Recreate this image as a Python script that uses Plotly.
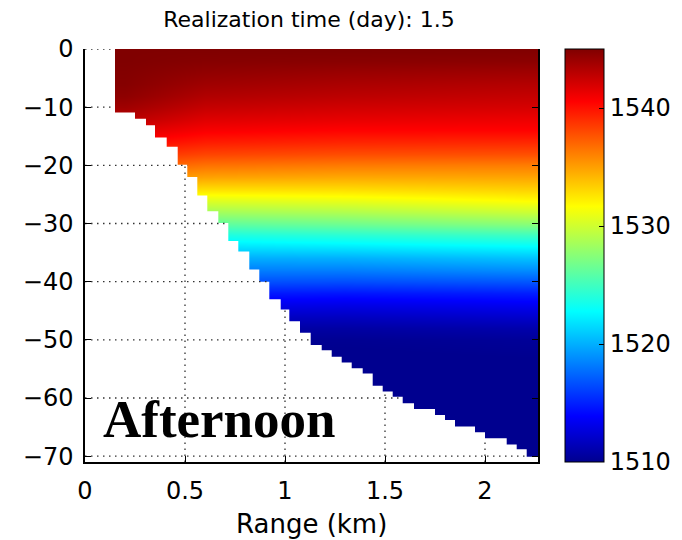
import bisect
import plotly.graph_objects as go

# ---------------- data ----------------
title_text = "Realization time (day): 1.5"
x_label = "Range (km)"
annotation_text = "Afternoon"

# sound-speed profiles (m/s) at four ranges (km), versus depth (m)
profile_range_km = [0.2, 0.6, 1.3, 2.2]
depth_m = [0, -2, -4, -6, -8, -10, -12, -14, -16, -18, -20, -22, -24, -26, -28,
           -30, -32, -34, -36, -38, -40, -42, -44, -46, -48, -50, -55, -60, -65, -71]
ss_0p2 = [1545.0, 1545.0, 1544.9, 1544.8, 1544.5, 1543.9, 1543.0, 1541.8, 1540.5, 1539.0,
          1537.4, 1535.6, 1533.4, 1531.0, 1528.6, 1526.0, 1523.8, 1521.8, 1520.0, 1518.4,
          1516.7, 1515.0, 1513.4, 1512.0, 1511.0, 1510.3, 1509.8, 1509.6, 1509.5, 1509.5]
ss_0p6 = [1545.0, 1544.8, 1544.4, 1543.9, 1543.3, 1542.6, 1541.7, 1540.8, 1539.6, 1538.2,
          1536.6, 1534.9, 1532.8, 1530.6, 1528.4, 1526.0, 1523.7, 1521.7, 1519.9, 1518.3,
          1516.6, 1514.8, 1513.2, 1511.8, 1510.8, 1510.2, 1509.8, 1509.6, 1509.5, 1509.5]
ss_1p3 = [1545.0, 1544.7, 1544.1, 1543.5, 1542.9, 1542.2, 1541.4, 1540.5, 1539.3, 1537.9,
          1536.3, 1534.7, 1532.9, 1531.0, 1528.9, 1526.6, 1524.2, 1522.0, 1520.0, 1518.3,
          1516.5, 1514.6, 1513.0, 1511.7, 1510.7, 1510.1, 1509.7, 1509.5, 1509.5, 1509.5]
ss_2p2 = [1545.0, 1544.6, 1543.9, 1543.2, 1542.6, 1542.0, 1541.2, 1540.5, 1539.2, 1537.8,
          1536.2, 1534.8, 1533.3, 1531.8, 1529.8, 1527.5, 1524.9, 1522.6, 1520.6, 1518.8,
          1516.8, 1514.9, 1513.4, 1512.1, 1511.0, 1510.3, 1509.8, 1509.6, 1509.5, 1509.5]

# bathymetry: left edge of each bottom step (km) and its depth (m)
bathy_left_km = [0.15, 0.25, 0.305, 0.35, 0.4085, 0.4635, 0.5115, 0.5615, 0.6115, 0.6665,
                 0.7165, 0.7665, 0.8215, 0.8715, 0.9215, 0.9785, 1.0215, 1.075, 1.1285,
                 1.1835, 1.2335, 1.2835, 1.3335, 1.3885, 1.4385, 1.4885, 1.5385, 1.5885,
                 1.645, 1.75, 1.80, 1.85, 1.95, 2.0, 2.1085, 2.1585, 2.2085]
bathy_depth_m = [-10.9, -12.0, -13.1, -15.2, -16.8, -19.9, -22.0, -25.2, -27.9, -29.9,
                 -33.0, -34.8, -37.9, -40.0, -43.0, -44.8, -46.8, -48.8, -50.9,
                 -51.8, -52.9, -53.9, -54.9, -55.8, -57.9, -58.9, -59.8, -60.9,
                 -61.9, -62.9, -63.8, -64.9, -65.9, -66.9, -68.0, -68.8, -70.1]

x_range = [0, 2.265]
y_range = [-71, 0]
x_tickvals = [0, 0.5, 1, 1.5, 2]
x_ticktext = ["0", "0.5", "1", "1.5", "2"]
y_tickvals = [0, -10, -20, -30, -40, -50, -60, -70]
y_ticktext = ["0", "\u221210", "\u221220", "\u221230", "\u221240", "\u221250", "\u221260", "\u221270"]
cbar_tickvals = [1510, 1520, 1530, 1540]
c_min, c_max = 1510, 1545

# MATLAB jet
jet = [[0.0, "rgb(0,0,143)"], [0.111, "rgb(0,0,255)"], [0.365, "rgb(0,255,255)"],
       [0.619, "rgb(255,255,0)"], [0.873, "rgb(255,0,0)"], [1.0, "rgb(128,0,0)"]]

# table z[depth][range]
profiles = [ss_0p2, ss_0p6, ss_1p3, ss_2p2]
z = [[p[i] for p in profiles] for i in range(len(depth_m))]

FONT = "DejaVu Sans"
fig = go.Figure()

fig.add_trace(go.Heatmap(
    x=profile_range_km, y=depth_m, z=z, zsmooth="best",
    colorscale=jet, zmin=c_min, zmax=c_max, hoverinfo="skip",
    colorbar=dict(
        x=(565 - 85) / 453, xanchor="left", xpad=0, ypad=0,
        y=0.5, yanchor="middle", len=1, lenmode="fraction", thickness=39,
        outlinewidth=1, outlinecolor="black",
        tickvals=cbar_tickvals, ticks="inside", ticklen=5, tickcolor="black",
        tickfont=dict(family=FONT, size=24, color="black"),
    ),
))

# white mask below the sea floor and shoreward of the first step
x_end = x_range[1]
edges = bathy_left_km + [x_end]
mx = [-0.2, edges[0]]
my = [1.0, 1.0]
for i, d in enumerate(bathy_depth_m):
    mx += [edges[i], edges[i + 1]]
    my += [d, d]
mx += [x_end + 0.2, x_end + 0.2, -0.2]
my += [bathy_depth_m[-1], y_range[0] - 5, y_range[0] - 5]
fig.add_trace(go.Scatter(x=mx, y=my, fill="toself", fillcolor="white", mode="lines",
                         line=dict(width=0, color="white"), hoverinfo="skip", showlegend=False))

# dotted grid, drawn only where there is no water data
gx, gy = [], []
for lev in y_tickvals:
    xe = x_end
    for i, d in enumerate(bathy_depth_m):
        if d < lev:
            xe = bathy_left_km[i]
            break
    gx += [x_range[0], xe, None]
    gy += [lev, lev, None]
for r in x_tickvals[1:]:
    k = bisect.bisect_right(bathy_left_km, r) - 1
    top = bathy_depth_m[k] if k >= 0 else 0
    gx += [r, r, None]
    gy += [y_range[0], top, None]
fig.add_trace(go.Scatter(x=gx, y=gy, mode="lines", hoverinfo="skip", showlegend=False,
                         line=dict(color="#333333", width=1.3, dash="1.5px,4.5px")))

fig.add_annotation(x=0.08, y=-63.6, xref="x", yref="y", xanchor="left", yanchor="middle",
                   text="<b>" + annotation_text + "</b>", showarrow=False,
                   font=dict(family="Liberation Serif", size=53, color="black"))
fig.add_annotation(x=0.5, y=(462 - 524) / 413, xref="paper", yref="paper",
                   xanchor="center", yanchor="middle", text=x_label, showarrow=False,
                   font=dict(family=FONT, size=26, color="black"))

fig.update_layout(
    width=682, height=540,
    margin=dict(l=85, r=144, t=49, b=78, autoexpand=False),
    paper_bgcolor="white", plot_bgcolor="white",
    title=dict(text=title_text, x=309 / 682, xanchor="center", xref="container",
               y=1 - 19 / 540, yanchor="middle", yref="container",
               font=dict(family=FONT, size=22, color="black")),
    xaxis=dict(range=x_range, tickvals=x_tickvals, ticktext=x_ticktext,
               ticks="inside", ticklen=6, tickcolor="black", showgrid=False, zeroline=False,
               showline=True, linecolor="black", linewidth=1.5, ticklabelstandoff=6,
               tickfont=dict(family=FONT, size=24, color="black")),
    yaxis=dict(range=y_range, tickvals=y_tickvals, ticktext=y_ticktext,
               ticks="inside", ticklen=6, tickcolor="black", showgrid=False, zeroline=False,
               showline=True, linecolor="black", linewidth=1.5, mirror="ticks",
               ticklabelstandoff=5,
               tickfont=dict(family=FONT, size=24, color="black")),
)

fig.write_html("out.html")
